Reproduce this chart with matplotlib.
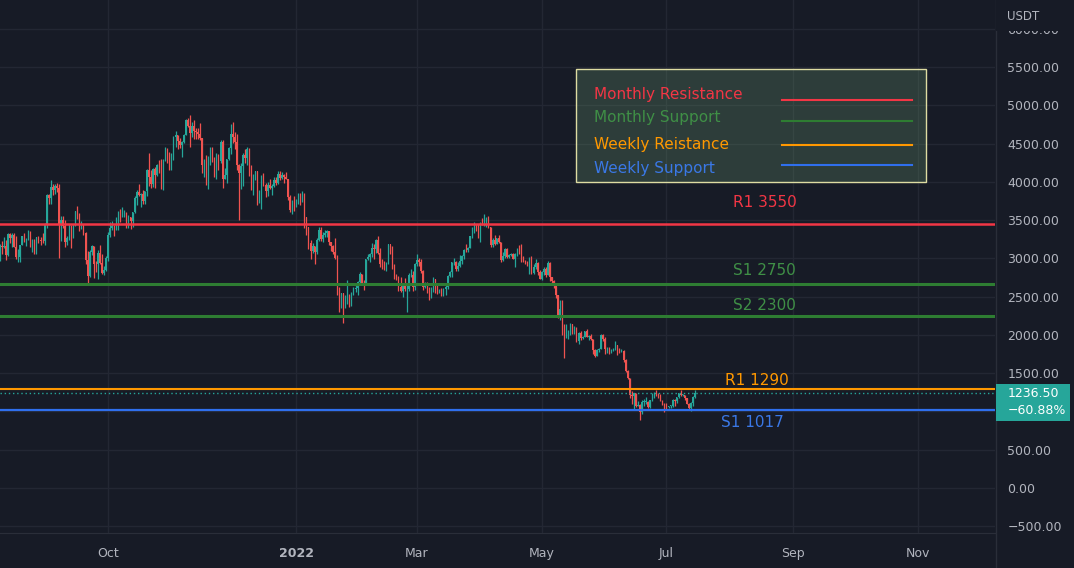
# -*- coding: utf-8 -*-
#
# ETH/USDT daily candles with monthly / weekly support and resistance levels,
# drawn in the dark TradingView look.
#===============================================================================

import numpy as np
import pandas as pd
import matplotlib
matplotlib.use('Agg')
import matplotlib.pyplot as plt
import matplotlib.dates as mdates
from matplotlib.patches import Rectangle
from matplotlib.lines import Line2D
from matplotlib.ticker import FixedLocator, FuncFormatter

#===============================================================================
# Data
#===============================================================================

START = '2021-08-09'
first_open = 3010

close = [
    # Aug 2021 (from 9th)
    3163, 3141, 3164, 3045, 3322, 3266, 3310, 3148, 3012, 3017, 3180, 3285,
    3225, 3240, 3325, 3172, 3225, 3100, 3273, 3243, 3226, 3225, 3430,
    # Sep
    3825, 3787, 3938, 3887, 3951, 3924, 3429, 3495, 3425, 3211, 3265, 3410,
    3285, 3429, 3613, 3572, 3398, 3432, 3330, 2976, 2762, 3078, 3155, 2931,
    2925, 3063, 2934, 2807, 2850, 3000,
    # Oct
    3308, 3390, 3417, 3385, 3515, 3585, 3560, 3561, 3575, 3415, 3545, 3490,
    3604, 3788, 3868, 3829, 3845, 3745, 3876, 4155, 4057, 3970, 4170, 4085,
    4220, 4130, 3925, 4285, 4415, 4325, 4290,
    # Nov
    4325, 4585, 4605, 4535, 4480, 4520, 4615, 4810, 4730, 4640, 4725, 4665,
    4645, 4625, 4570, 4215, 4290, 3990, 4300, 4440, 4280, 4085, 4340, 4270,
    4525, 4040, 4095, 4295, 4445, 4630,
    # Dec
    4585, 4515, 4225, 4120, 4200, 4355, 4305, 4430, 4110, 3905, 4085, 4135,
    3780, 3860, 4020, 3960, 3880, 3960, 3925, 3940, 4020, 3980, 4105, 4045,
    4095, 4065, 4035, 3795, 3625, 3710, 3680,
    # Jan 2022
    3765, 3830, 3760, 3790, 3540, 3410, 3195, 3090, 3155, 3085, 3240, 3375,
    3250, 3305, 3330, 3350, 3210, 3160, 3085, 3000, 2565, 2405, 2540, 2440,
    2460, 2465, 2420, 2545, 2600, 2605, 2690,
    # Feb
    2790, 2680, 2665, 2990, 3020, 3055, 3140, 3125, 3240, 3075, 2925, 2920,
    2880, 2930, 3185, 3125, 2890, 2780, 2755, 2620, 2570, 2640, 2595, 2600,
    2775, 2780, 2620, 2920,
    # Mar
    2975, 2950, 2835, 2620, 2665, 2555, 2495, 2575, 2730, 2605, 2555, 2570,
    2515, 2595, 2620, 2770, 2815, 2945, 2950, 2860, 2895, 2970, 3030, 3110,
    3105, 3140, 3285, 3330, 3400, 3385, 3280,
    # Apr
    3450, 3445, 3520, 3520, 3410, 3170, 3235, 3190, 3260, 3210, 2980, 3030,
    3120, 3020, 3040, 3060, 2990, 3055, 3105, 3080, 2985, 2965, 2935, 2920,
    3010, 2810, 2890, 2935, 2815, 2730,
    # May
    2825, 2860, 2780, 2940, 2750, 2700, 2635, 2520, 2230, 2340, 2070, 1960,
    2015, 2055, 2145, 2025, 2090, 1915, 2020, 1960, 1975, 2045, 1975, 1980,
    1945, 1800, 1725, 1795, 1815, 1995, 1940,
    # Jun
    1815, 1830, 1775, 1805, 1805, 1860, 1815, 1790, 1790, 1665, 1530, 1435,
    1210, 1205, 1235, 1070, 1085, 995, 1125, 1125, 1125, 1050, 1145, 1225,
    1245, 1200, 1195, 1140, 1100, 1070,
    # Jul
    1060, 1070, 1075, 1150, 1135, 1185, 1240, 1215, 1215, 1170, 1100, 1040,
    1110, 1190, 1236.5,
]

high = [
    3185, 3230, 3275, 3240, 3330, 3335, 3325, 3330, 3290, 3125, 3180, 3295,
    3335, 3270, 3375, 3360, 3250, 3250, 3280, 3290, 3280, 3330, 3465,
    3840, 3835, 4025, 3970, 3975, 3985, 3965, 3555, 3550, 3505, 3290, 3445,
    3435, 3445, 3615, 3680, 3590, 3485, 3445, 3345, 3100, 3110, 3170, 3160,
    2970, 3110, 3175, 3060, 2900, 3030,
    3340, 3470, 3490, 3440, 3540, 3620, 3640, 3675, 3625, 3605, 3560, 3545,
    3610, 3815, 3895, 3970, 3855, 3890, 3880, 4170, 4375, 4160, 4175, 4190,
    4235, 4290, 4300, 4300, 4460, 4435, 4385,
    4375, 4600, 4665, 4605, 4575, 4535, 4630, 4825, 4840, 4868, 4775, 4810,
    4700, 4705, 4770, 4570, 4300, 4345, 4340, 4450, 4450, 4325, 4375, 4365,
    4550, 4550, 4180, 4300, 4460, 4760,
    4780, 4650, 4630, 4235, 4240, 4375, 4430, 4455, 4435, 4220, 4100, 4145,
    4135, 3890, 4090, 4110, 3990, 3995, 4035, 3965, 4060, 4060, 4135, 4140,
    4125, 4100, 4125, 4040, 3830, 3765, 3810,
    3770, 3850, 3850, 3880, 3855, 3545, 3415, 3240, 3200, 3165, 3265, 3410,
    3410, 3340, 3365, 3370, 3360, 3215, 3175, 3265, 3040, 2630, 2550, 2545,
    2515, 2720, 2530, 2560, 2620, 2645, 2700,
    2815, 2800, 2710, 2995, 3050, 3065, 3205, 3190, 3250, 3285, 3140, 2990,
    2960, 2955, 3190, 3180, 3160, 2925, 2800, 2770, 2760, 2665, 2745, 2655,
    2805, 2860, 2835, 2935,
    3050, 3000, 2985, 2845, 2685, 2690, 2625, 2620, 2755, 2730, 2650, 2600,
    2610, 2615, 2660, 2785, 2840, 2955, 3000, 2960, 2945, 3045, 3040, 3125,
    3190, 3150, 3295, 3415, 3480, 3445, 3450,
    3470, 3530, 3580, 3535, 3550, 3415, 3260, 3300, 3270, 3305, 3215, 3085,
    3140, 3130, 3055, 3075, 3065, 3065, 3130, 3170, 3185, 3025, 2975, 2960,
    3020, 3035, 2930, 2985, 2945, 2845,
    2835, 2885, 2880, 2960, 2955, 2755, 2715, 2640, 2525, 2460, 2450, 2135,
    2145, 2065, 2150, 2145, 2110, 2105, 2035, 2045, 1985, 2050, 2080, 2000,
    2015, 1950, 1815, 1810, 1825, 2005, 2015,
    1970, 1845, 1835, 1810, 1830, 1915, 1865, 1830, 1815, 1800, 1685, 1545,
    1440, 1270, 1245, 1245, 1135, 1090, 1150, 1165, 1185, 1135, 1150, 1245,
    1250, 1280, 1235, 1225, 1145, 1105,
    1105, 1075, 1085, 1160, 1165, 1190, 1245, 1280, 1230, 1215, 1170, 1105,
    1120, 1195, 1280,
]

low = [
    2960, 3060, 3130, 2980, 3030, 3205, 3150, 3145, 2995, 2950, 2955, 3170,
    3210, 3160, 3235, 3150, 3085, 3055, 3060, 3200, 3170, 3200, 3170,
    3390, 3715, 3710, 3830, 3845, 3865, 3005, 3230, 3395, 3150, 3180, 3235,
    3140, 3270, 3425, 3515, 3355, 3385, 3310, 2920, 2650, 2750, 3040, 2740,
    2815, 2725, 2930, 2795, 2780, 2835,
    2970, 3275, 3370, 3285, 3370, 3375, 3475, 3545, 3535, 3400, 3400, 3385,
    3410, 3590, 3700, 3810, 3675, 3705, 3715, 3815, 3950, 3920, 3935, 3915,
    4075, 4110, 3900, 3890, 4265, 4245, 4150,
    4155, 4290, 4455, 4430, 4445, 4330, 4505, 4605, 4715, 4460, 4580, 4565,
    4565, 4555, 4550, 4110, 4060, 3960, 3910, 4220, 4260, 4060, 4035, 4160,
    4240, 3925, 4030, 3980, 4280, 4360,
    4510, 4430, 4150, 3500, 3910, 3950, 4245, 4215, 4080, 3890, 3825, 4025,
    3700, 3725, 3640, 3940, 3800, 3820, 3900, 3825, 3930, 3955, 3965, 4025,
    4035, 3990, 4030, 3765, 3605, 3585, 3620,
    3675, 3710, 3690, 3735, 3400, 3310, 3115, 2990, 3065, 2930, 3060, 3220,
    3225, 3215, 3280, 3280, 3170, 3095, 3055, 2995, 2520, 2300, 2355, 2160,
    2345, 2400, 2360, 2375, 2525, 2555, 2520,
    2680, 2650, 2580, 2650, 2975, 2950, 3020, 2985, 3070, 3060, 2890, 2860,
    2850, 2830, 2920, 3060, 2860, 2735, 2720, 2570, 2555, 2500, 2570, 2300,
    2570, 2755, 2575, 2580,
    2895, 2905, 2805, 2590, 2605, 2545, 2460, 2485, 2565, 2550, 2535, 2550,
    2510, 2505, 2520, 2595, 2760, 2760, 2915, 2835, 2835, 2890, 2930, 2985,
    3085, 3085, 3130, 3270, 3325, 3350, 3270,
    3210, 3440, 3420, 3405, 3400, 3150, 3150, 3180, 3190, 3205, 2950, 2965,
    3010, 3000, 3010, 3025, 2985, 2885, 3030, 3050, 2955, 2950, 2925, 2905,
    2790, 2790, 2795, 2855, 2775, 2725,
    2720, 2780, 2760, 2775, 2705, 2655, 2615, 2480, 2215, 2190, 2000, 1700,
    1955, 1950, 2000, 2010, 2015, 1900, 1880, 1930, 1945, 1965, 1965, 1935,
    1935, 1750, 1705, 1720, 1775, 1810, 1915,
    1755, 1765, 1745, 1760, 1785, 1800, 1730, 1760, 1775, 1645, 1515, 1420,
    1175, 1090, 1015, 1055, 1065, 880, 965, 1065, 1100, 1045, 1045, 1140,
    1175, 1195, 1175, 1130, 1085, 995,
    1035, 1040, 1045, 1055, 1075, 1110, 1175, 1195, 1205, 1150, 1090, 1035,
    1005, 1075, 1180,
]

change_pct = -60.88

# support / resistance levels (drawn value, label text)
level_values = [3450, 2670, 2250, 1285, 1020]
level_labels = ['R1 3550', 'S1 2750', 'S2 2300', 'R1 1290', 'S1 1017']
level_kinds = ['mres', 'msup', 'msup', 'wres', 'wsup']

legend_labels = ['Monthly Resistance', 'Monthly Support',
                 'Weekly Reistance', 'Weekly Support']
legend_kinds = ['mres', 'msup', 'wres', 'wsup']

x_tick_dates = ['2021-10-01', '2022-01-01', '2022-03-01', '2022-05-01',
                '2022-07-01', '2022-09-01', '2022-11-01']
x_tick_labels = ['Oct', '2022', 'Mar', 'May', 'Jul', 'Sep', 'Nov']
y_ticks = np.arange(-500, 6001, 500)
y_hidden = [1000]          # tick label hidden under the last price tag

#===============================================================================
# Style
#===============================================================================

BG = '#171b26'
GRID = '#232733'
SEP = '#2a2e39'
TXT = '#b2b5be'
UP = '#26a69a'
DOWN = '#ef5350'
KIND_COLOR = {'mres': '#f23645', 'msup': '#2e7d32',
              'wres': '#ff9800', 'wsup': '#2f6fed'}
KIND_TEXT = {'mres': '#f23645', 'msup': '#3f8f46',
             'wres': '#ff9800', 'wsup': '#3a78e6'}
KIND_LW = {'mres': 1.8, 'msup': 2.2, 'wres': 1.5, 'wsup': 1.6}


def fmt_price(v, pos=None):
    return '{:.2f}'.format(v).replace('-', '\u2212')


def fmt_tick(v, pos=None):
    if v in y_hidden:
        return ''
    return fmt_price(v)


def main():

    W, H = 1074, 568
    fig = plt.figure(figsize=(W / 100, H / 100), dpi=100, facecolor=BG)
    ax = fig.add_axes([0, 35 / H, 995 / W, 533 / H], facecolor=BG)

    # ------------------------------------------------------------------
    # Candles
    # ------------------------------------------------------------------
    dates = pd.date_range(START, periods=len(close), freq='D')
    x = mdates.date2num(dates)
    c = np.array(close, dtype=float)
    o = np.array([first_open] + close[:-1], dtype=float)
    h = np.array(high, dtype=float)
    l = np.array(low, dtype=float)
    cols = np.where(c >= o, UP, DOWN)

    ax.vlines(x, l, h, colors=cols, linewidth=0.9, zorder=3)
    ax.bar(x, np.maximum(np.abs(c - o), 6), bottom=np.minimum(o, c),
           width=0.6, color=cols, linewidth=0, zorder=3)

    # ------------------------------------------------------------------
    # Levels
    # ------------------------------------------------------------------
    label_x = [0.737, 0.737, 0.737, 0.729, 0.725]
    label_dy = [280, 170, 130, 115, -170]
    for val, lab, kind, lx, dy in zip(level_values, level_labels,
                                      level_kinds, label_x, label_dy):
        ax.axhline(val, color=KIND_COLOR[kind], linewidth=KIND_LW[kind],
                   zorder=4)
        ax.text(lx, val + dy, lab, transform=ax.get_yaxis_transform(),
                color=KIND_TEXT[kind], fontsize=11, ha='left', va='center',
                zorder=6)

    # last price dotted line
    ax.axhline(c[-1], color=UP, linewidth=1.0, linestyle=(0, (1, 2)),
               zorder=4)

    # ------------------------------------------------------------------
    # Legend box
    # ------------------------------------------------------------------
    ax.add_patch(Rectangle((0.579, 0.6585), 0.352, 0.212,
                           transform=ax.transAxes, facecolor='#6a9a70',
                           alpha=0.27, edgecolor='none', zorder=5))
    ax.add_patch(Rectangle((0.579, 0.6585), 0.352, 0.212,
                           transform=ax.transAxes, facecolor='none',
                           edgecolor='#dedca2', linewidth=1.0, zorder=6))
    text_y = [0.822, 0.780, 0.728, 0.683]
    line_y = [0.812, 0.773, 0.728, 0.690]
    for lab, kind, ty, ly in zip(legend_labels, legend_kinds, text_y, line_y):
        ax.text(0.597, ty, lab, transform=ax.transAxes, fontsize=11,
                color=KIND_TEXT[kind], ha='left', va='center', zorder=7)
        ax.add_line(Line2D([0.786, 0.917], [ly, ly], transform=ax.transAxes,
                           color=KIND_COLOR[kind], linewidth=1.5, zorder=7))

    # ------------------------------------------------------------------
    # Axes
    # ------------------------------------------------------------------
    x0 = mdates.date2num(pd.Timestamp(START)) + 0.2
    ax.set_xlim(x0, x0 + 486.4)
    ax.set_ylim(-591, 6376)

    ax.xaxis.set_major_locator(FixedLocator(
        mdates.date2num(pd.to_datetime(x_tick_dates))))
    ax.set_xticklabels(x_tick_labels)
    for t in ax.get_xticklabels():
        if t.get_text() == '2022':
            t.set_fontweight('bold')
    ax.tick_params(axis='x', length=0, pad=10, labelsize=9, labelcolor=TXT)

    ax.yaxis.tick_right()
    ax.yaxis.set_major_locator(FixedLocator(y_ticks))
    ax.yaxis.set_major_formatter(FuncFormatter(fmt_tick))
    ax.tick_params(axis='y', length=0, pad=9, labelsize=9, labelcolor=TXT)

    ax.grid(True, color=GRID, linewidth=1.0, zorder=0)
    ax.set_axisbelow(True)
    for side in ('top', 'left', 'right'):
        ax.spines[side].set_visible(False)
    ax.spines['bottom'].set_color(SEP)

    # right price scale separator
    fig.add_artist(Line2D([995.5 / W, 995.5 / W], [0, 1], color=SEP,
                          linewidth=1.0, transform=fig.transFigure))

    # currency header, covering the clipped top label
    hdr = Rectangle((996 / W, 1 - 31 / H), 78 / W, 31 / H,
                    transform=fig.transFigure, facecolor=BG,
                    edgecolor='none')
    hdr.set_zorder(10)
    fig.add_artist(hdr)
    usdt = fig.text(1007 / W, 1 - 17 / H, 'USDT', color=TXT, fontsize=8.5,
                    ha='left', va='center')
    usdt.set_zorder(11)

    # last price tag
    yp = ax.transData.transform((x0, c[-1]))[1] / H
    tag = Rectangle((996 / W, yp - 28 / H), 74 / W, 37 / H,
                    transform=fig.transFigure, facecolor=UP,
                    edgecolor='none')
    tag.set_zorder(10)
    fig.add_artist(tag)
    t1 = fig.text(1008 / W, yp, fmt_price(c[-1]), color='white',
                  fontsize=9, ha='left', va='center')
    t2 = fig.text(1008 / W, yp - 17 / H,
                  '{:.2f}%'.format(change_pct).replace('-', '\u2212'),
                  color='white', fontsize=9, ha='left', va='center')
    t1.set_zorder(11)
    t2.set_zorder(11)

    fig.savefig('out.png', dpi=100, facecolor=BG)


if __name__ == '__main__':
    main()
